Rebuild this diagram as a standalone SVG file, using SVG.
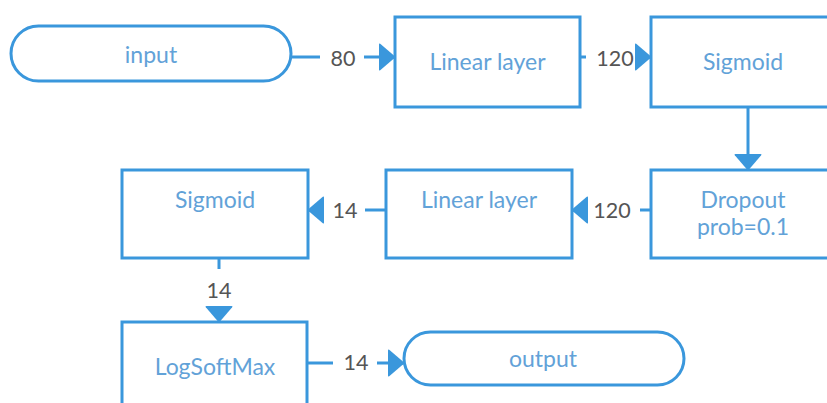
<svg xmlns="http://www.w3.org/2000/svg" width="827" height="403" viewBox="0 0 827 403">
  <style>
    .box { fill: #ffffff; stroke: #3a97dc; stroke-width: 3; }
    .name { font-family: Lato, "Liberation Sans", sans-serif; font-size: 23px; fill: #62a2d8; text-anchor: middle; }
    .edge { fill: none; stroke: #3a97dc; stroke-width: 3; marker-end: url(#head); }
    .lbl { font-family: Lato, "Liberation Sans", sans-serif; font-size: 21.5px; fill: #555555; text-anchor: middle; }
  </style>
  <defs>
    <marker id="head" viewBox="0 0 16 30" refX="8" refY="15" markerWidth="16" markerHeight="30" markerUnits="userSpaceOnUse" orient="auto">
      <path d="M1.2,1.8 L15.2,13.8 Q16.3,15 15.2,16.2 L1.2,28.2 Q0,29.2 0,27.6 L0,2.4 Q0,0.8 1.2,1.8 Z" fill="#3a97dc"/>
    </marker>
  </defs>

  <g id="connectors">
    <path class="edge" d="M291,57 H320 M364,57 H387"/>
    <path class="edge" d="M580,57 H586 M638,57 H643"/>
    <path class="edge" d="M748,107 V162"/>
    <path class="edge" d="M651,210 H640 M588,210 H580"/>
    <path class="edge" d="M386,210 H365 M324,210 H316"/>
    <path class="edge" d="M219,258 V269 M219,308 V314"/>
    <path class="edge" d="M307,363 H333 M377,363 H396"/>
    <text class="lbl" x="343" y="66">80</text>
    <text class="lbl" x="615" y="66">120</text>
    <text class="lbl" x="612" y="218">120</text>
    <text class="lbl" x="345" y="218">14</text>
    <text class="lbl" x="219" y="298">14</text>
    <text class="lbl" x="356" y="370">14</text>
  </g>

  <g id="input">
    <rect class="box" x="11" y="26" width="280" height="55" rx="27.5"/>
    <text class="name" x="151" y="63">input</text>
  </g>
  <g id="linear1">
    <rect class="box" x="395" y="17" width="185" height="90"/>
    <text class="name" x="487.5" y="70">Linear layer</text>
  </g>
  <g id="sigmoid1">
    <rect class="box" x="651" y="17" width="195" height="90"/>
    <text class="name" x="743" y="70">Sigmoid</text>
  </g>
  <g id="dropout">
    <rect class="box" x="651" y="170" width="195" height="88"/>
    <text class="name" x="743" y="208">Dropout</text>
    <text class="name" x="743" y="235">prob=0.1</text>
  </g>
  <g id="linear2">
    <rect class="box" x="386" y="170" width="186" height="88"/>
    <text class="name" x="479" y="208">Linear layer</text>
  </g>
  <g id="sigmoid2">
    <rect class="box" x="122" y="170" width="186" height="88"/>
    <text class="name" x="215" y="208">Sigmoid</text>
  </g>
  <g id="logsoftmax">
    <rect class="box" x="122" y="322" width="185" height="100"/>
    <text class="name" x="215" y="375">LogSoftMax</text>
  </g>
  <g id="output">
    <rect class="box" x="404" y="332" width="280" height="53" rx="26.5"/>
    <text class="name" x="543" y="367">output</text>
  </g>
</svg>
